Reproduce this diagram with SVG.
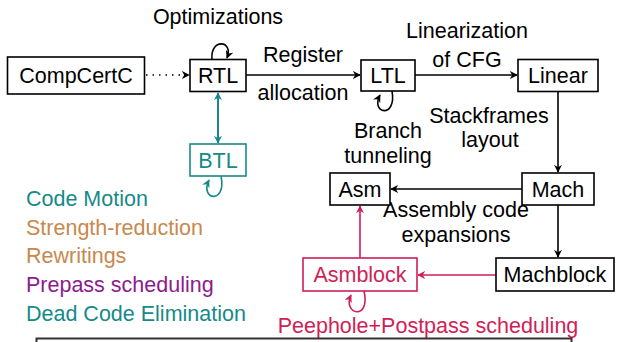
<svg xmlns="http://www.w3.org/2000/svg" width="618" height="342" viewBox="0 0 618 342">
<defs>
<style>
text{font-family:"Liberation Sans",Arial,sans-serif;font-size:21.5px;text-anchor:middle}
.box{fill:#fff;stroke:#000;stroke-width:1.6}
.e{fill:none;stroke:#000;stroke-width:1.6}
.teal{fill:#168a88}
.tan{fill:#c8884e}
.pur{fill:#8e1b8e}
.cr{fill:#cf1f58}
.l{text-anchor:start}
</style>
<marker id="ak" viewBox="0 0 10 10" refX="9" refY="5" markerWidth="8" markerHeight="8" orient="auto-start-reverse" markerUnits="userSpaceOnUse"><path d="M0,0 L10,5 L0,10 L3,5 z" fill="#000"/></marker>
<marker id="at" viewBox="0 0 10 10" refX="9" refY="5" markerWidth="8" markerHeight="8" orient="auto-start-reverse" markerUnits="userSpaceOnUse"><path d="M0,0 L10,5 L0,10 L3,5 z" fill="#168a88"/></marker>
<marker id="ac" viewBox="0 0 10 10" refX="9" refY="5" markerWidth="8" markerHeight="8" orient="auto-start-reverse" markerUnits="userSpaceOnUse"><path d="M0,0 L10,5 L0,10 L3,5 z" fill="#cf1f58"/></marker>
</defs>
<g id="connectors">
<path class="e" d="M146,75 L189,75" stroke-dasharray="1.5 5" marker-end="url(#ak)"/>
<path class="e" d="M212,59 C210,38 234,40 227,58" marker-end="url(#ak)"/>
<path class="e" d="M246,75 L360,75" marker-end="url(#ak)"/>
<path class="e" style="stroke:#168a88;stroke-width:2" d="M218,93 L218,143" marker-start="url(#at)" marker-end="url(#at)"/>
<path class="e" style="stroke:#168a88" d="M221,176 C227,205 199,200 209,180" marker-end="url(#at)"/>
<path class="e" d="M392,91 C397,119 370,114 380,95" marker-end="url(#ak)"/>
<path class="e" d="M415,75 L517,75" marker-end="url(#ak)"/>
<path class="e" d="M558,92 L558,172" marker-end="url(#ak)"/>
<path class="e" d="M522,189 L391,189" marker-end="url(#ak)"/>
<path class="e" d="M558,205 L558,257" marker-end="url(#ak)"/>
<path class="e" style="stroke:#cf1f58" d="M496,275 L418,275" marker-end="url(#ac)"/>
<path class="e" style="stroke:#cf1f58" d="M360,258 L360,206" marker-end="url(#ac)"/>
<path class="e" style="stroke:#cf1f58" d="M364,291 C371,321 342,315 351,295" marker-end="url(#ac)"/>
</g>
<g id="labels">
<text x="218" y="24">Optimizations</text>
<text x="303" y="62">Register</text>
<text x="303" y="100">allocation</text>
<text x="467" y="38">Linearization</text>
<text x="467" y="67">of CFG</text>
<text x="388" y="138">Branch</text>
<text x="388" y="163">tunneling</text>
<text x="489" y="123">Stackframes</text>
<text x="490" y="147">layout</text>
<text x="456" y="217">Assembly code</text>
<text x="456" y="242">expansions</text>
<text x="428" y="333" class="cr">Peephole+Postpass scheduling</text>
</g>
<g id="legend">
<text x="26" y="206" class="l teal">Code Motion</text>
<text x="26" y="235" class="l tan">Strength-reduction</text>
<text x="26" y="263" class="l tan">Rewritings</text>
<text x="26" y="292" class="l pur">Prepass scheduling</text>
<text x="26" y="321" class="l teal">Dead Code Elimination</text>
</g>
<g id="CompCertC"><rect class="box" x="7.5" y="57" width="137" height="37"/><text x="76" y="83">CompCertC</text></g>
<g id="RTL"><rect class="box" x="190" y="59.5" width="56" height="32"/><text x="218" y="83">RTL</text></g>
<g id="BTL"><rect class="box" style="stroke:#168a88" x="190" y="144" width="56" height="32"/><text x="218" y="167.5" class="teal">BTL</text></g>
<g id="LTL"><rect class="box" x="361" y="60" width="54" height="31"/><text x="388" y="83">LTL</text></g>
<g id="Linear"><rect class="box" x="518" y="59.5" width="80" height="32"/><text x="558" y="83">Linear</text></g>
<g id="Mach"><rect class="box" x="522" y="173" width="72" height="32"/><text x="558" y="196.5">Mach</text></g>
<g id="Asm"><rect class="box" x="330" y="173" width="60" height="32"/><text x="360" y="196.5">Asm</text></g>
<g id="Machblock"><rect class="box" x="496" y="258" width="118" height="33"/><text x="555" y="282">Machblock</text></g>
<g id="Asmblock"><rect class="box" style="stroke:#cf1f58" x="303" y="258" width="114" height="33"/><text x="360" y="282" class="cr">Asmblock</text></g>
<rect x="36.5" y="338.5" width="535" height="20" fill="none" stroke="#333" stroke-width="2"/>
</svg>
